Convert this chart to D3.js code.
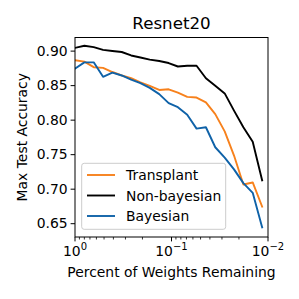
<!DOCTYPE html>
<html>
<head>
<meta charset="utf-8">
<script src="https://cdn.jsdelivr.net/npm/d3@7"></script>
<style>
  body { margin: 0; background: #fff; }
  text { font-family: "DejaVu Sans", sans-serif; fill: #000; }
</style>
</head>
<body>
<div id="target"></div>
<script>
const weightsRemaining = [1, 0.8, 0.64, 0.512, 0.41, 0.328, 0.262, 0.21, 0.168, 0.134, 0.107,
  0.0859, 0.0687, 0.055, 0.044, 0.0352, 0.0281, 0.0225, 0.018, 0.0144, 0.0115];
const transplant = [0.886, 0.884, 0.876, 0.875, 0.869, 0.864, 0.860, 0.854, 0.849, 0.843, 0.844,
  0.839, 0.833, 0.832, 0.825, 0.808, 0.783, 0.748, 0.706, 0.709, 0.674];
const nonBayesian = [0.904, 0.907, 0.905, 0.901, 0.8995, 0.898, 0.893, 0.890, 0.887, 0.885, 0.882,
  0.877, 0.878, 0.878, 0.860, 0.849, 0.838, 0.813, 0.789, 0.768, 0.712];
const bayesian = [0.874, 0.883, 0.883, 0.862, 0.868, 0.864, 0.858, 0.853, 0.846, 0.837, 0.824,
  0.818, 0.807, 0.787, 0.789, 0.760, 0.745, 0.728, 0.708, 0.694, 0.644];
const yTicks = [0.65, 0.70, 0.75, 0.80, 0.85, 0.90];
const xTicks = [1, 0.1, 0.01];
const xTickExp = ['0', '\u22121', '\u22122'];

const series = [
  {name: 'Transplant', values: transplant, color: '#f7811c'},
  {name: 'Non-bayesian', values: nonBayesian, color: '#000000'},
  {name: 'Bayesian', values: bayesian, color: '#0f62a8'}
];

const width = 299;
const height = 299;
const plot = {left: 75, right: 268, top: 37.5, bottom: 237};
const fontSize = 13.9;

const svg = d3.select('#target')
  .append('svg')
  .attr('width', width)
  .attr('height', height);

const x = d3.scaleLog()
  .domain([1, 0.01])
  .range([plot.left, plot.right]);

const y = d3.scaleLinear()
  .domain([0.630, 0.919])
  .range([plot.bottom, plot.top]);

// lines under the frame
const line = d3.line()
  .x((d, i) => x(weightsRemaining[i]))
  .y((d) => y(d));

svg.append('clipPath').attr('id', 'clip')
  .append('rect')
  .attr('x', plot.left).attr('y', plot.top)
  .attr('width', plot.right - plot.left).attr('height', plot.bottom - plot.top);

svg.append('g')
  .attr('clip-path', 'url(#clip)')
  .selectAll('path')
  .data(series)
  .enter()
  .append('path')
  .attr('d', (d) => line(d.values))
  .attr('fill', 'none')
  .attr('stroke', (d) => d.color)
  .attr('stroke-width', 1.9)
  .attr('stroke-linejoin', 'round')
  .attr('stroke-linecap', 'square');

// y axis
const yAxis = svg.append('g')
  .attr('transform', `translate(${plot.left},0)`)
  .call(d3.axisLeft(y).tickValues(yTicks).tickFormat(d3.format('.2f')).tickSize(4.4).tickPadding(3));
yAxis.select('.domain').remove();
yAxis.selectAll('text').attr('font-size', fontSize).style('font-family', '"DejaVu Sans", sans-serif');
yAxis.selectAll('line').attr('stroke-width', 1);

// x axis
const minorTicks = [];
[1, 0.1].forEach((decade) => {
  for (let m = 2; m <= 9; m++) minorTicks.push(decade * m / 10);
});

const xAxis = svg.append('g')
  .attr('transform', `translate(0,${plot.bottom})`);
xAxis.selectAll('.minor')
  .data(minorTicks)
  .enter()
  .append('line')
  .attr('x1', (d) => x(d)).attr('x2', (d) => x(d))
  .attr('y1', 0).attr('y2', 2.5)
  .attr('stroke', '#000').attr('stroke-width', 0.8);
xAxis.selectAll('.major')
  .data(xTicks)
  .enter()
  .append('line')
  .attr('x1', (d) => x(d)).attr('x2', (d) => x(d))
  .attr('y1', 0).attr('y2', 4.4)
  .attr('stroke', '#000').attr('stroke-width', 1);
const xLabels = xAxis.selectAll('.lbl')
  .data(xTicks)
  .enter()
  .append('text')
  .attr('x', (d) => x(d))
  .attr('y', 19)
  .attr('text-anchor', 'middle')
  .attr('font-size', fontSize);
xLabels.append('tspan').text('10');
xLabels.append('tspan')
  .attr('dy', -6)
  .attr('font-size', 10)
  .text((d, i) => xTickExp[i]);

// frame
svg.append('rect')
  .attr('x', plot.left).attr('y', plot.top)
  .attr('width', plot.right - plot.left).attr('height', plot.bottom - plot.top)
  .attr('fill', 'none')
  .attr('stroke', '#000')
  .attr('stroke-width', 1);

// titles
svg.append('text')
  .attr('x', (plot.left + plot.right) / 2)
  .attr('y', 29)
  .attr('text-anchor', 'middle')
  .attr('font-size', 16.7)
  .text('Resnet20');

svg.append('text')
  .attr('x', (plot.left + plot.right) / 2)
  .attr('y', 277)
  .attr('text-anchor', 'middle')
  .attr('font-size', fontSize)
  .text('Percent of Weights Remaining');

svg.append('text')
  .attr('transform', `translate(27,${(plot.top + plot.bottom) / 2}) rotate(-90)`)
  .attr('text-anchor', 'middle')
  .attr('font-size', fontSize)
  .text('Max Test Accuracy');

// legend
const legend = svg.append('g');
legend.append('rect')
  .attr('x', 81.7).attr('y', 163.3)
  .attr('width', 144).attr('height', 66)
  .attr('rx', 2.5)
  .attr('fill', 'rgba(255,255,255,0.8)')
  .attr('stroke', '#cccccc')
  .attr('stroke-width', 1);
const entries = legend.selectAll('.entry')
  .data(series)
  .enter()
  .append('g')
  .attr('transform', (d, i) => `translate(0,${175 + i * 20.5})`);
entries.append('line')
  .attr('x1', 87).attr('x2', 115)
  .attr('y1', 0).attr('y2', 0)
  .attr('stroke', (d) => d.color)
  .attr('stroke-width', 1.9);
entries.append('text')
  .attr('x', 126)
  .attr('y', 5)
  .attr('font-size', fontSize)
  .text((d) => d.name);
</script>
</body>
</html>
